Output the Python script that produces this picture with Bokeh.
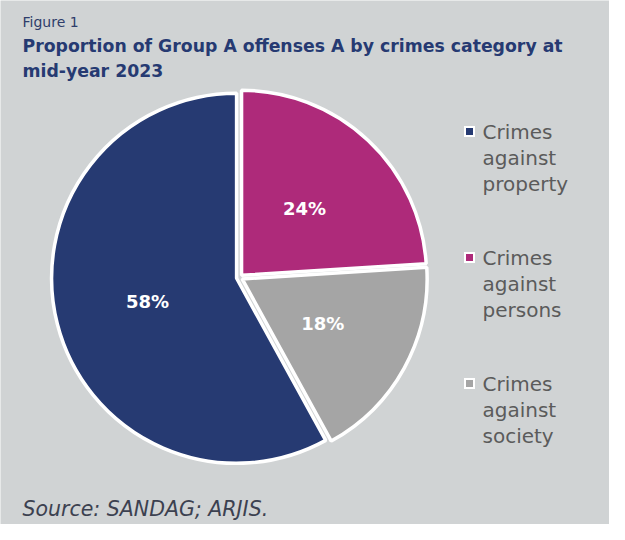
import math
from bokeh.plotting import figure
from bokeh.models import Range1d, ColumnDataSource
from bokeh.core.properties import value
from bokeh.embed import file_html
from bokeh.resources import INLINE

# ---- data ----
categories = ["Crimes against property", "Crimes against persons", "Crimes against society"]
shares = [58, 24, 18]
colors = ["#263a72", "#ae2a7a", "#a5a5a5"]
draw_order = [1, 2, 0]  # clockwise from 12 o'clock

title_small = "Figure 1"
title_lines = ["Proportion of Group A offenses A by crimes category at", "mid-year 2023"]
source_text = "Source: SANDAG; ARJIS."

BG = "#d0d3d4"
W, H = 609, 524
FONT = "DejaVu Sans"

p = figure(width=W, height=H, output_backend="svg", toolbar_location=None,
           x_range=Range1d(0, W), y_range=Range1d(540 - H, 540),
           min_border=0, background_fill_color=BG, border_fill_color=BG)
p.axis.visible = False
p.grid.visible = False
p.outline_line_color = None

def Y(y):
    return 540 - y

cx, cy, R = 239, Y(277), 185
explode = 3
total = sum(shares)

start = 90.0
xs, ys, sa, ea, fc, lx, ly, lt = [], [], [], [], [], [], [], []
for i in draw_order:
    sweep = shares[i] / total * 360.0
    end = start - sweep
    mid = math.radians((start + end) / 2)
    ox = cx + explode * math.cos(mid)
    oy = cy + explode * math.sin(mid)
    xs.append(ox); ys.append(oy)
    sa.append(math.radians(end)); ea.append(math.radians(start))
    fc.append(colors[i])
    lx.append(cx + 95 * math.cos(mid)); ly.append(cy + 95 * math.sin(mid))
    lt.append(f"{shares[i]}%")
    start = end

src = ColumnDataSource(dict(x=xs, y=ys, sa=sa, ea=ea, fc=fc))
p.wedge(x="x", y="y", radius=R, start_angle="sa", end_angle="ea", fill_color="fc",
        line_color="white", line_width=3.5, source=src)

p.text(x=lx, y=ly, text=lt, text_color="white", text_font=value(FONT),
       text_font_style="bold", text_font_size="18px", text_align="center",
       text_baseline="middle")

# titles
p.text(x=[22], y=[Y(21)], text=[title_small], text_color="#2e3d6b", text_font=value(FONT),
       text_font_size="14px", text_baseline="middle")
for k, line in enumerate(title_lines):
    p.text(x=[22], y=[Y(45 + 25 * k)], text=[line], text_color="#263a72", text_font=value(FONT),
           text_font_style="bold", text_font_size="17.3px", text_baseline="middle")

# legend
for i, cat in enumerate(categories):
    y0 = 131 + 126 * i
    p.rect(x=[469], y=[Y(y0)], width=11, height=11, fill_color="white", line_color=None)
    p.rect(x=[469], y=[Y(y0)], width=7, height=7, fill_color=colors[i], line_color=None)
    words = cat.split(" ")
    for j, w in enumerate(words):
        p.text(x=[482], y=[Y(y0 + 26 * j)], text=[w], text_color="#5b5b5b",
               text_font=value(FONT), text_font_size="20px", text_baseline="middle")

p.text(x=[22], y=[Y(508)], text=[source_text], text_color="#3c4150", text_font=value(FONT),
       text_font_style="italic", text_font_size="20.5px", text_baseline="middle")

open("out.html", "w").write(file_html(p, INLINE))
